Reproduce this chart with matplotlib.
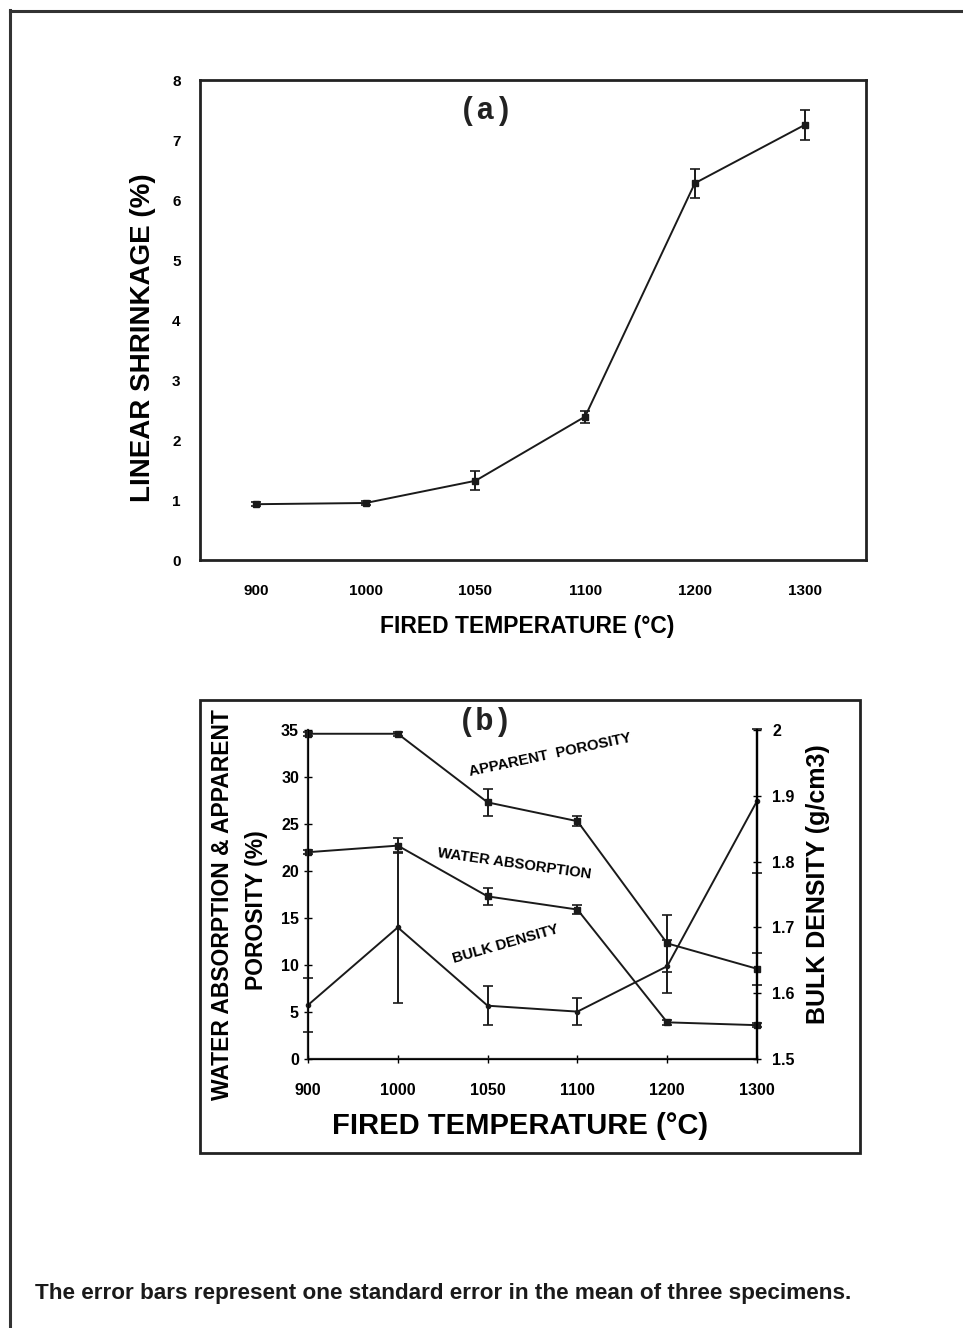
import numpy as np
import matplotlib
matplotlib.use('Agg')
from matplotlib import pyplot as plt
from matplotlib.lines import Line2D
from matplotlib.patches import Rectangle

temps = ['900', '1000', '1050', '1100', '1200', '1300']

# (a) linear shrinkage (%)
shrink = [0.93, 0.95, 1.32, 2.39, 6.28, 7.25]
shrink_err = [0.03, 0.03, 0.16, 0.10, 0.24, 0.25]

# (b) water absorption & apparent porosity (%), bulk density (g/cm3)
app_por = [34.6, 34.6, 27.3, 25.3, 12.3, 9.6]
app_por_err = [0.2, 0.2, 1.4, 0.5, 3.0, 1.7]
water_abs = [22.0, 22.7, 17.3, 15.9, 3.9, 3.6]
water_abs_err = [0.2, 0.8, 0.9, 0.5, 0.3, 0.2]
bulk_den = [1.582, 1.700, 1.581, 1.572, 1.641, 1.892]
bulk_den_err = [0.041, 0.115, 0.030, 0.020, 0.040, 0.110]

W, H = 963, 1328
fig = plt.figure(figsize=(W / 100, H / 100), dpi=100)
fig.patch.set_facecolor('white')

def frac(x0, y0, x1, y1):
    # pixel box (top-left origin) -> figure fraction rect
    return [x0 / W, 1 - y1 / H, (x1 - x0) / W, (y1 - y0) / H]

def ftext(px, py, s, **kw):
    # text placed by pixel position (top-left origin)
    return fig.text(px / W, 1 - py / H, s, ha='center', va='center', **kw)

lc = '#1a1a1a'
font = 'Liberation Sans'
x = np.arange(len(temps))

# outer page frame (left + top lines)
fig.add_artist(Line2D([10 / W, 10 / W], [0, 1 - 10 / H], color='#333333', lw=2.2, transform=fig.transFigure))
fig.add_artist(Line2D([10 / W, 1], [1 - 11 / H, 1 - 11 / H], color='#333333', lw=2.2, transform=fig.transFigure))

# ---------------- (a) ----------------
ax1 = fig.add_axes(frac(200, 80, 866, 560))
ax1.errorbar(x, shrink, yerr=shrink_err, color=lc, lw=1.4, marker='s', ms=5,
             capsize=3.5, elinewidth=1.4, capthick=1.2)
ax1.set_xlim(-0.51, 5.56)
ax1.set_ylim(0, 8)
ax1.set_xticks(x)
ax1.set_xticklabels(temps)
ax1.set_yticks(range(0, 9))
ax1.tick_params(length=0, pad=17, labelsize=11)
ax1.tick_params(axis='y', pad=14)
for lab in ax1.get_xticklabels() + ax1.get_yticklabels():
    lab.set_fontfamily(font)
    lab.set_fontweight('bold')
for s in ax1.spines.values():
    s.set_linewidth(2)
    s.set_color('#222222')
ftext(527, 627, 'FIRED TEMPERATURE (°C)', fontfamily=font, fontweight='bold', fontsize=16.5)
ftext(143, 338, 'LINEAR SHRINKAGE (%)', rotation=90, fontfamily=font, fontweight='bold', fontsize=20)
ax1.text(0.43, 0.935, '(a)', transform=ax1.transAxes, ha='center', va='center',
         fontfamily='Liberation Mono', fontweight='bold', fontsize=22, color='#222222')

# ---------------- (b) ----------------
fig.add_artist(Rectangle((200 / W, 1 - 1153 / H), 660 / W, 453 / H, fill=False,
                         edgecolor='#222222', lw=2, transform=fig.transFigure))

ax2 = fig.add_axes(frac(308, 730, 757, 1059))
ax2.errorbar(x, app_por, yerr=app_por_err, color=lc, lw=1.4, marker='s', ms=5,
             capsize=3.5, elinewidth=1.4, capthick=1.2, clip_on=False)
ax2.errorbar(x, water_abs, yerr=water_abs_err, color=lc, lw=1.4, marker='s', ms=5,
             capsize=3.5, elinewidth=1.4, capthick=1.2, clip_on=False)
ax2.set_xlim(0, 5)
ax2.set_ylim(0, 35)
ax2.set_xticks(x)
ax2.set_xticklabels(temps)
ax2.set_yticks(range(0, 40, 5))
ax2.spines['top'].set_visible(False)
for side in ['left', 'bottom', 'right']:
    ax2.spines[side].set_linewidth(1.6)
    ax2.spines[side].set_color('#222222')
ax2.tick_params(direction='inout', length=6, width=1, labelsize=11.5)
ax2.tick_params(axis='x', pad=14)
for lab in ax2.get_xticklabels() + ax2.get_yticklabels():
    lab.set_fontfamily(font)
    lab.set_fontweight('bold')

ax3 = ax2.twinx()
ax3.errorbar(x, bulk_den, yerr=bulk_den_err, color=lc, lw=1.4, marker='o', ms=3,
             capsize=3.5, elinewidth=1.4, capthick=1.2, clip_on=False)
ax3.set_ylim(1.5, 2.0)
ax3.set_yticks([1.5, 1.6, 1.7, 1.8, 1.9, 2.0])
ax3.set_yticklabels(['1.5', '1.6', '1.7', '1.8', '1.9', '2'])
ax3.spines['top'].set_visible(False)
ax3.spines['right'].set_linewidth(1.6)
ax3.tick_params(direction='inout', length=6, width=1, labelsize=11.5, pad=8)
for lab in ax3.get_yticklabels():
    lab.set_fontfamily(font)
    lab.set_fontweight('bold')

ftext(520, 1126, 'FIRED TEMPERATURE (°C)', fontfamily=font, fontweight='bold', fontsize=21)
ftext(818, 884, 'BULK DENSITY (g/cm3)', rotation=90, fontfamily=font, fontweight='bold', fontsize=18)
ftext(222, 905, 'WATER ABSORPTION & APPARENT', rotation=90, fontfamily=font, fontweight='bold', fontsize=16.5)
ftext(256, 910, 'POROSITY (%)', rotation=90, fontfamily=font, fontweight='bold', fontsize=16.5)

ax2.text(0.395, 1.025, '(b)', transform=ax2.transAxes, ha='center', va='center',
         fontfamily='Liberation Mono', fontweight='bold', fontsize=22, color='#222222')

lab_kw = dict(fontfamily=font, fontweight='bold', fontsize=10.7, ha='center', va='center',
              transform=ax2.transAxes)
ax2.text(0.54, 0.925, 'APPARENT  POROSITY', rotation=12, **lab_kw)
ax2.text(0.46, 0.593, 'WATER ABSORPTION', rotation=-8, **lab_kw)
ax2.text(0.44, 0.35, 'BULK DENSITY', rotation=16, **lab_kw)

# caption
fig.text(35 / W, 1 - 1293 / H, 'The error bars represent one standard error in the mean of three specimens.',
         ha='left', va='center', fontfamily=font, fontweight='bold', fontsize=16.2, color='#1a1a1a')

fig.savefig('out.png', dpi=100)
